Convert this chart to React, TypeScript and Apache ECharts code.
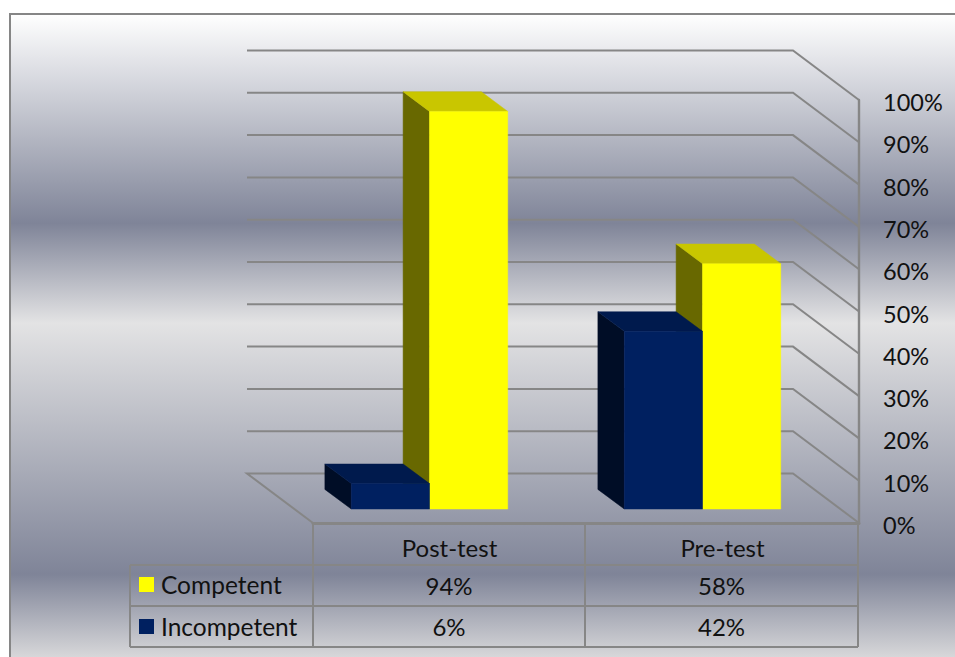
import React, { useEffect, useRef } from "react";
import * as echarts from "echarts";

const categories = ["Post-test", "Pre-test"];
const competent = [94, 58];
const incompetent = [6, 42];
const tickValues = [0, 10, 20, 30, 40, 50, 60, 70, 80, 90, 100];

const FONT = "Lato";
const FS = 24;
const TEXT = "#111111";
const LINE = "#868686";

// 3D projection offsets
const WALL_DX = -66;
const WALL_DY = -49.5;
const BAR_DX = -20;
const BAR_DY = -14;
const DEPTH_DX = -26.4;
const DEPTH_DY = -19.6;
const BAR_FRAC = 0.2865;

const tableLeft = 130;
const tableCols = [313, 585, 858];
const tableRows = [565, 606, 647];

const shade = {
  yellow: { front: "#FFFF00", top: "#C9C600", side: "#686800" },
  blue: { front: "#002060", top: "#001A4D", side: "#000D26" },
};

function barRender(dir: number, c: { front: string; top: string; side: string }) {
  return (_p: any, api: any) => {
    const top = api.coord([api.value(0), api.value(1)]);
    const base = api.coord([api.value(0), 0]);
    const w = api.size([1, 0])[0] * BAR_FRAC;
    const x0 = top[0] + BAR_DX + (dir < 0 ? -w : 0);
    const x1 = x0 + w;
    const yT = top[1] + BAR_DY;
    const yB = base[1] + BAR_DY;
    const poly = (points: number[][], fill: string) => ({
      type: "polygon",
      shape: { points },
      style: { fill, stroke: fill, lineWidth: 0.5 },
    });
    return {
      type: "group",
      children: [
        poly([[x0, yT], [x0 + DEPTH_DX, yT + DEPTH_DY], [x0 + DEPTH_DX, yB + DEPTH_DY], [x0, yB]], c.side),
        poly([[x0, yT], [x0 + DEPTH_DX, yT + DEPTH_DY], [x1 + DEPTH_DX, yT + DEPTH_DY], [x1, yT]], c.top),
        poly([[x0, yT], [x1, yT], [x1, yB], [x0, yB]], c.front),
      ],
    };
  };
}

function wallRender(params: any, api: any) {
  const v = api.value(1);
  const y = api.coord([0, v])[1];
  const cs = params.coordSys;
  const l = cs.x + WALL_DX;
  const r = cs.x + cs.width + WALL_DX;
  const points = [[l, y + WALL_DY], [r, y + WALL_DY], [r - WALL_DX, y]];
  if (v === 0) points.unshift([cs.x, y]);
  return {
    type: "polyline",
    shape: { points },
    style: { fill: "none", stroke: LINE, lineWidth: 2 },
  };
}

function tableGraphics() {
  const els: any[] = [];
  const line = (x1: number, y1: number, x2: number, y2: number) =>
    els.push({ type: "line", shape: { x1, y1, x2, y2 }, style: { stroke: LINE, lineWidth: 2 } });
  tableRows.forEach((y) => line(tableLeft, y, tableCols[2], y));
  tableCols.forEach((x) => line(x, 524, x, tableRows[2]));
  line(tableLeft, tableRows[0], tableLeft, tableRows[2]);
  const rows = [competent, incompetent];
  rows.forEach((vals, r) =>
    vals.forEach((v, c) =>
      els.push({
        type: "text",
        x: (tableCols[c] + tableCols[c + 1]) / 2,
        y: (tableRows[r] + tableRows[r + 1]) / 2,
        style: { text: `${v}%`, font: `${FS}px ${FONT}`, fill: TEXT, textAlign: "center", textVerticalAlign: "middle" },
      })
    )
  );
  return els;
}

export default function App() {
  const ref = useRef<HTMLDivElement>(null);
  useEffect(() => {
    const chart = echarts.init(ref.current!, undefined, { renderer: "svg" });
    chart.setOption({
      animation: false,
      textStyle: { fontFamily: FONT },
      grid: { left: 313, top: 100, width: 546, height: 423 },
      legend: {
        data: [
          { name: "Competent", icon: "rect" },
          { name: "Incompetent", icon: "rect" },
        ],
        orient: "vertical",
        left: 139,
        top: 572,
        padding: 0,
        itemWidth: 15,
        itemHeight: 15,
        itemGap: 17,
        selectedMode: false,
        textStyle: { fontFamily: FONT, fontSize: 24.5, color: TEXT, padding: [0, 0, 0, 2] },
      },
      xAxis: {
        type: "category",
        data: categories,
        axisLine: { lineStyle: { color: LINE, width: 3 } },
        axisTick: { show: false },
        axisLabel: { fontFamily: FONT, fontSize: FS, color: TEXT, margin: 12 },
      },
      yAxis: {
        type: "value",
        position: "right",
        min: 0,
        max: 100,
        interval: 10,
        splitLine: { show: false },
        axisTick: { show: false },
        axisLine: { show: true, lineStyle: { color: LINE, width: 2.4 } },
        axisLabel: {
          formatter: "{value}%",
          fontFamily: FONT,
          fontSize: 23.5,
          color: TEXT,
          margin: 24,
          verticalAlign: "top",
          lineHeight: 4,
        },
      },
      graphic: [
        {
          type: "rect",
          z: -100,
          silent: true,
          shape: { x: 10, y: 14, width: 946, height: 644 },
          style: {
            fill: new echarts.graphic.LinearGradient(0, 0, 0, 1, [
              { offset: 0, color: "#ffffff" },
              { offset: 0.325, color: "#7f8498" },
              { offset: 0.48, color: "#e3e3e4" },
              { offset: 0.87, color: "#7f8498" },
              { offset: 1, color: "#d8d8da" },
            ]),
            stroke: LINE,
            lineWidth: 2,
          },
        },
        ...tableGraphics(),
      ],
      series: [
        {
          type: "custom",
          name: "walls",
          clip: false,
          silent: true,
          z: 1,
          encode: { x: 0, y: 1 },
          data: tickValues.map((v) => [0, v]),
          renderItem: wallRender,
        },
        {
          type: "custom",
          name: "Competent",
          clip: false,
          z: 2,
          itemStyle: { color: shade.yellow.front },
          encode: { x: 0, y: 1 },
          data: competent.map((v, i) => [i, v]),
          renderItem: barRender(1, shade.yellow),
        },
        {
          type: "custom",
          name: "Incompetent",
          clip: false,
          z: 3,
          itemStyle: { color: shade.blue.front },
          encode: { x: 0, y: 1 },
          data: incompetent.map((v, i) => [i, v]),
          renderItem: barRender(-1, shade.blue),
        },
      ],
    });
    return () => chart.dispose();
  }, []);
  return <div ref={ref} style={{ position: "absolute", left: 0, top: 0, width: 955, height: 657 }} />;
}
